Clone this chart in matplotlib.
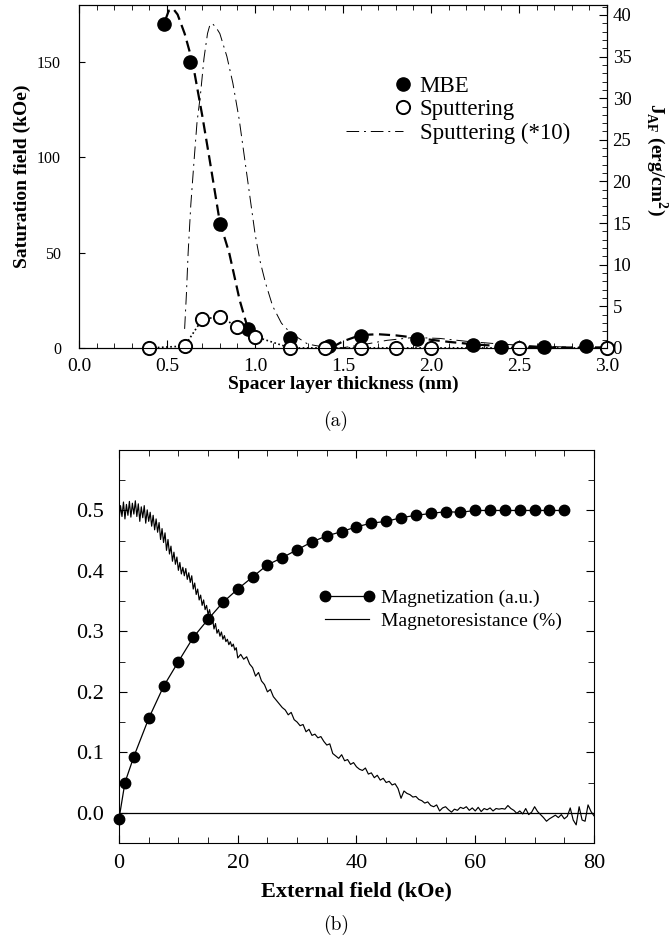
import numpy as np
import matplotlib
matplotlib.use("Agg")
import matplotlib.pyplot as plt
from matplotlib.ticker import MultipleLocator, FormatStrFormatter
from matplotlib.legend_handler import HandlerLine2D
from matplotlib.lines import Line2D

plt.rcParams['font.family'] = ['Liberation Serif', 'DejaVu Serif']
plt.rcParams['mathtext.fontset'] = 'custom'
plt.rcParams['mathtext.rm'] = 'Liberation Serif'
plt.rcParams['mathtext.bf'] = 'Liberation Serif:bold'

# ---- panel (a): saturation field vs spacer thickness ----
mbe_x = [0.48, 0.63, 0.80, 0.96, 1.20, 1.42, 1.60, 1.92, 2.24, 2.40, 2.64, 2.88]
mbe_y = [170, 150, 65, 10, 5, 1, 6.5, 4.5, 1.5, 0.5, 0.5, 1]

sput_x = [0.4, 0.6, 0.7, 0.8, 0.9, 1.0, 1.2, 1.4, 1.6, 1.8, 2.0, 2.5, 3.0]
sput_y = [0, 1, 15, 16.5, 11, 6, 0, 0, 0, 0, 0, 0, 0]

# fitted curves
mbe_fit_x = [0.49, 0.51, 0.535, 0.56, 0.6, 0.645, 0.7, 0.74, 0.8, 0.853,
             0.913, 0.96, 1.0, 1.1, 1.25, 1.42, 1.5, 1.6, 1.7, 1.8,
             1.9, 2.0, 2.1, 2.2, 2.3, 2.45, 2.6, 2.8, 3.0]
mbe_fit_y = [172, 177, 178, 175, 165, 150, 122, 100, 66, 50,
             25, 10, 0, -8, -6, -0.5, 3.5, 6.8, 7.2, 6.6,
             5.5, 4.3, 3.2, 2.3, 1.5, 0.8, 0.4, 0.2, 0.3]

sput10_x = [0.6, 0.61, 0.62, 0.635, 0.655, 0.67, 0.69, 0.71, 0.73, 0.745,
            0.76, 0.78, 0.8, 0.84, 0.874, 0.91, 0.94, 0.97, 1.0, 1.03,
            1.06, 1.1, 1.15, 1.2, 1.3, 1.45, 1.6, 1.75, 1.9, 2.05,
            2.2, 2.4, 2.6, 2.8, 3.0]
sput10_y = [10, 28, 50, 75, 100, 118, 133, 152, 165, 170,
            170, 168, 165, 153, 139, 120, 100, 80, 60, 45,
            34, 22, 13, 8, 2, -0.5, 1.5, 4, 5.5, 5,
            3.5, 2, 1, 0.4, 0.2]

# ---- panel (b): magnetization and magnetoresistance ----
mag_field = [0, 1, 2.5, 5, 7.5, 10, 12.5, 15, 17.5, 20, 22.5, 25, 27.5, 30,
             32.5, 35, 37.5, 40, 42.5, 45, 47.5, 50, 52.5, 55, 57.5, 60,
             62.5, 65, 67.5, 70, 72.5, 75]
mag_value = [-0.01, 0.05, 0.093, 0.156, 0.209, 0.25, 0.29, 0.32, 0.348, 0.37,
             0.39, 0.41, 0.422, 0.435, 0.448, 0.458, 0.465, 0.473, 0.479,
             0.482, 0.488, 0.492, 0.495, 0.498, 0.497, 0.5, 0.5, 0.5, 0.5,
             0.5, 0.5, 0.5]

# 0 .. 19.75 kOe every 0.25, then 20 .. 80 kOe every 0.5
mr_field = np.concatenate([np.arange(0, 20, 0.25), np.arange(20, 80.01, 0.5)])
mr_value = [
    0.484, 0.508, 0.490, 0.514,
    0.486, 0.510, 0.492, 0.515,
    0.489, 0.512, 0.494, 0.516,
    0.490, 0.511, 0.482, 0.506,
    0.488, 0.508, 0.479, 0.501,
    0.482, 0.497, 0.474, 0.492,
    0.468, 0.486, 0.464, 0.480,
    0.452, 0.470, 0.447, 0.463,
    0.434, 0.452, 0.428, 0.441,
    0.416, 0.431, 0.411, 0.423,
    0.401, 0.414, 0.395, 0.406,
    0.392, 0.404, 0.386, 0.397,
    0.381, 0.392, 0.370, 0.380,
    0.361, 0.370, 0.352, 0.360,
    0.343, 0.352, 0.336, 0.343,
    0.328, 0.336, 0.322, 0.321,
    0.304, 0.313, 0.297, 0.303,
    0.292, 0.299, 0.287, 0.293,
    0.283, 0.287, 0.278, 0.283,
    0.275, 0.279, 0.269, 0.273,
    # step 0.5 from here
    0.256, 0.262, 0.254, 0.258,
    0.246, 0.240, 0.226, 0.232,
    0.218, 0.212, 0.200, 0.204,
    0.192, 0.186, 0.180, 0.174,
    0.170, 0.162, 0.166, 0.154,
    0.150, 0.144, 0.146, 0.134,
    0.138, 0.128, 0.130, 0.124,
    0.126, 0.118, 0.112, 0.114,
    0.098, 0.094, 0.090, 0.096,
    0.086, 0.088, 0.080, 0.083,
    0.076, 0.072, 0.070, 0.074,
    0.064, 0.066, 0.058, 0.062,
    0.054, 0.057, 0.050, 0.052,
    0.046, 0.048, 0.040, 0.024,
    0.036, 0.032, 0.030, 0.026,
    0.027, 0.022, 0.020, 0.016,
    0.018, 0.012, 0.010, 0.013,
    0.003, 0.008, 0.010, 0.005,
    0.001, 0.006, 0.004, 0.009,
    0.007, 0.010, 0.004, 0.008,
    0.003, 0.009, 0.002, 0.007,
    0.005, 0.008, 0.003, 0.007,
    0.006, 0.007, 0.006, 0.012,
    0.007, 0.004, -0.001, 0.003,
    -0.002, 0.007, -0.003, 0.001,
    0.010, 0.002, -0.003, -0.008,
    -0.014, -0.010, -0.007, -0.004,
    -0.008, -0.003, -0.010, -0.006,
    0.008, -0.012, -0.020, 0.010,
    -0.012, -0.014, 0.013, 0.002,
    -0.005,
]


class RightMarker(HandlerLine2D):
    # only the symbol, placed at the right end of the handle box
    def create_artists(self, legend, orig_handle, xdescent, ydescent,
                       width, height, fontsize, trans):
        y = (height - ydescent) / 2
        mark = Line2D([-xdescent + width], [y])
        self.update_prop(mark, orig_handle, legend)
        mark.set_linestyle('none')
        mark.set_transform(trans)
        return [mark]


fig = plt.figure(figsize=(6.72, 9.52), dpi=100)

# ================= (a) =================
ax1 = fig.add_axes([0.1176, 0.6345, 0.7857, 0.3603])
ax1r = ax1.twinx()

ax1.plot(mbe_fit_x, mbe_fit_y, color='k', lw=1.6, ls=(0, (5, 2.5)))
l_s10, = ax1.plot(sput10_x, sput10_y, color='k', lw=0.7, ls=(0, (13, 5, 2, 5)),
                  label='Sputtering (*10)')
ax1.plot(sput_x, sput_y, color='k', lw=1.2, ls=(0, (1, 1.5)))
l_mbe, = ax1.plot(mbe_x, mbe_y, 'o', color='k', ms=9.5, clip_on=False, zorder=4,
                  label='MBE')
l_sp, = ax1.plot(sput_x, sput_y, 'o', mfc='white', mec='k', mew=1.4, ms=9.5,
                 clip_on=False, zorder=5, label='Sputtering')

ax1.set_xlim(0, 3.0)
ax1.set_ylim(0, 180)
ax1r.set_ylim(0, 41.2)

ax1.xaxis.set_major_locator(MultipleLocator(0.5))
ax1.xaxis.set_minor_locator(MultipleLocator(0.1))
ax1.xaxis.set_major_formatter(FormatStrFormatter('%.1f'))
ax1.yaxis.set_major_locator(MultipleLocator(50))
ax1r.yaxis.set_major_locator(MultipleLocator(5))
ax1r.yaxis.set_minor_locator(MultipleLocator(1))

ax1.tick_params(axis='x', which='both', direction='in', top=True, labelsize=14, pad=7)
ax1.tick_params(axis='x', which='major', length=6)
ax1.tick_params(axis='x', which='minor', length=3.5)
ax1.tick_params(axis='y', which='both', direction='in', right=False, labelsize=11.5,
                length=4, pad=13)
ax1r.tick_params(axis='y', which='both', direction='in', labelsize=13.5, pad=4)
ax1r.tick_params(axis='y', which='major', length=6)
ax1r.tick_params(axis='y', which='minor', length=3.5)

ax1.set_xlabel('Spacer layer thickness (nm)', fontsize=14, fontweight='bold', labelpad=1)
ax1.set_ylabel('Saturation field (kOe)', fontsize=14, fontweight='bold', labelpad=4)
ax1r.set_ylabel(r'$\mathbf{J}_{\mathbf{AF}}$ (erg/cm$^{\mathbf{2}}$)', fontsize=14,
                fontweight='bold', rotation=270, labelpad=28)
ax1r.yaxis.label.set_y(0.55)

ax1.legend(handles=[l_mbe, l_sp, l_s10], loc='upper left',
           bbox_to_anchor=(0.489, 0.82), frameon=False, fontsize=16.5,
           handlelength=2.45, handletextpad=0.75, labelspacing=0.1,
           borderaxespad=0,
           handler_map={l_mbe: RightMarker(), l_sp: RightMarker()})

fig.text(0.5, 0.558, '(a)', ha='center', va='center', fontsize=14, family='cmr10')

# ================= (b) =================
ax2 = fig.add_axes([0.1771, 0.1145, 0.7068, 0.4128])
ax2.axhline(0, color='k', lw=0.9)
l_mr, = ax2.plot(mr_field, mr_value, color='k', lw=0.85, label='Magnetoresistance (%)')
l_mag, = ax2.plot(mag_field, mag_value, '-o', color='k', lw=0.9, ms=7.5,
                  clip_on=False, zorder=4, label='Magnetization (a.u.)')

ax2.set_xlim(0, 80)
ax2.set_ylim(-0.05, 0.6)
ax2.xaxis.set_major_locator(MultipleLocator(20))
ax2.xaxis.set_minor_locator(MultipleLocator(5))
ax2.set_yticks([0.0, 0.1, 0.2, 0.3, 0.4, 0.5])
ax2.yaxis.set_minor_locator(MultipleLocator(0.05))
ax2.yaxis.set_major_formatter(FormatStrFormatter('%.1f'))
ax2.tick_params(which='both', direction='in', top=True, right=True, labelsize=16)
ax2.tick_params(axis='y', which='both', pad=11)
ax2.tick_params(axis='x', which='both', pad=8)
ax2.tick_params(which='major', length=6)
ax2.tick_params(which='minor', length=4)

ax2.set_xlabel('External field (kOe)', fontsize=16, fontweight='bold', labelpad=6)

ax2.legend(handles=[l_mag, l_mr], loc='upper left', bbox_to_anchor=(0.418, 0.665),
           frameon=False, fontsize=14, handlelength=2.25, handletextpad=0.6,
           labelspacing=0.25, borderaxespad=0,
           handler_map={l_mag: HandlerLine2D(numpoints=2, marker_pad=0)})

fig.text(0.5, 0.028, '(b)', ha='center', va='center', fontsize=14, family='cmr10')

fig.savefig('out.png', dpi=100)
